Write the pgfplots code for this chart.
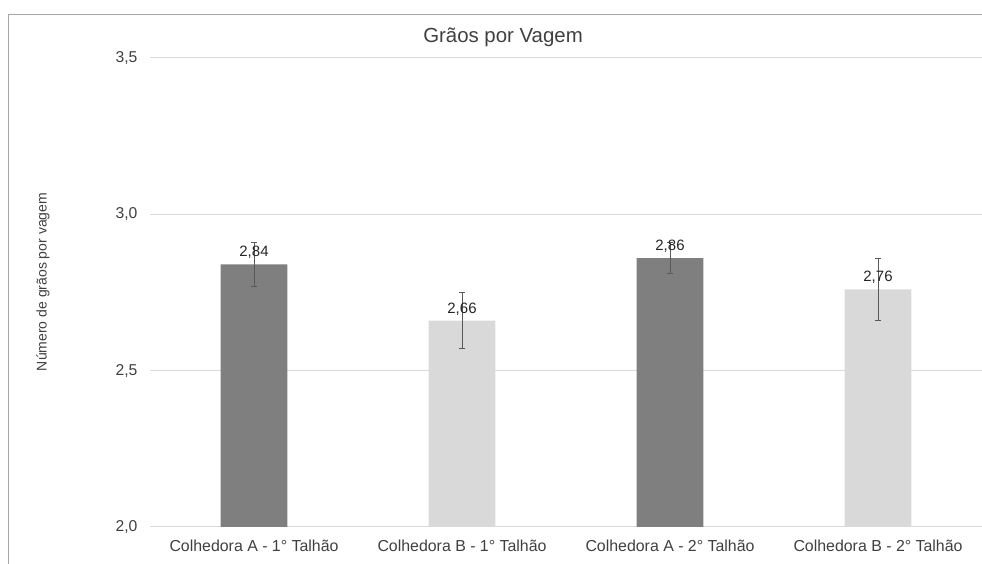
\documentclass[border=0pt]{standalone}
\usepackage{pgfplots}
\pgfplotsset{compat=1.18}
\usepackage{fontspec}
\setmainfont{Liberation Sans}
\definecolor{darkbar}{HTML}{7F7F7F}
\definecolor{lightbar}{HTML}{D9D9D9}
\definecolor{gridc}{HTML}{D9D9D9}
\definecolor{txt}{HTML}{404040}
\definecolor{lbl}{HTML}{262626}
\definecolor{errc}{HTML}{595959}
\definecolor{frame}{HTML}{A6A6A6}
\begin{document}
\begin{tikzpicture}[x=1pt,y=1pt]
\path[use as bounding box] (0,0) rectangle (982,564);
\draw[frame, line width=1pt] (984,549) -- (8,549) -- (8,-5);
\node[txt, font=\fontsize{20.4}{24}\selectfont] at (503,527) {Grãos por Vagem};
\node[txt, rotate=90, font=\fontsize{14}{16}\selectfont] at (43,282) {Número de grãos por vagem};
\begin{axis}[
  at={(150pt,37pt)}, anchor=south west,
  scale only axis, width=832pt, height=469pt,
  xmin=-0.5, xmax=3.5, ymin=2, ymax=3.5,
  xtick={0,1,2,3},
  xticklabels={Colhedora A - 1° Talhão, Colhedora B - 1° Talhão, Colhedora A - 2° Talhão, Colhedora B - 2° Talhão},
  ytick={2,2.5,3,3.5},
  yticklabel style={xshift=-9pt, /pgf/number format/.cd, use comma, fixed, fixed zerofill, precision=1},
  /pgf/number format/assume math mode=true,
  ticklabel style={font=\fontsize{15.7}{18}\selectfont, text=txt},
  xticklabel style={yshift=-9pt, font=\fontsize{15.9}{18}\selectfont},
  major tick length=0pt,
  axis line style={draw=none},
  ymajorgrids, grid style={gridc, line width=1pt},
  ybar, bar width=0.32, bar shift=0pt,
  clip=false,
  nodes near coords,
  nodes near coords style={yshift=2pt, font=\fontsize{15}{18}\selectfont, text=lbl, /pgf/number format/.cd, use comma, fixed, fixed zerofill, precision=2, assume math mode=true},
  error bars/y dir=both, error bars/y explicit,
  error bars/error bar style={line width=0.9pt, color=errc},
  error bars/error mark options={rotate=90, mark size=3pt, line width=0.9pt, color=errc},
]
\addplot[fill=darkbar, draw=none] coordinates {(0,2.84) +- (0,0.07) (2,2.86) +- (0,0.05)};
\addplot[fill=lightbar, draw=none] coordinates {(1,2.66) +- (0,0.09) (3,2.76) +- (0,0.10)};
\end{axis}
\end{tikzpicture}
\end{document}
